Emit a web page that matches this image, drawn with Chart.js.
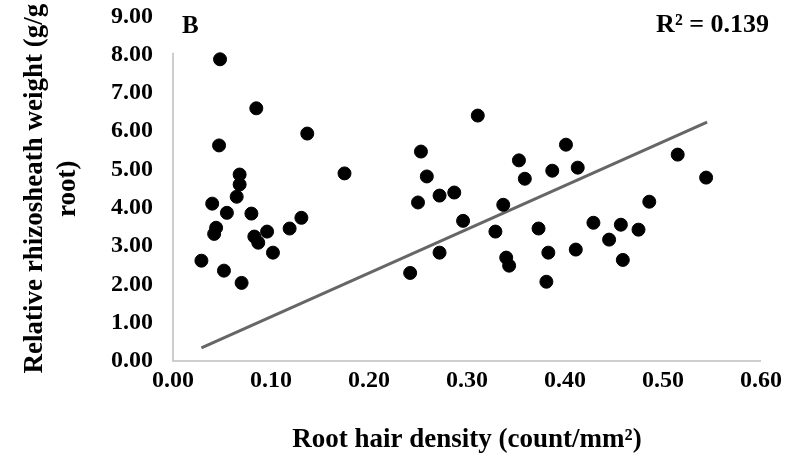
<!DOCTYPE html>
<html>
<head>
<meta charset="utf-8">
<script src="https://cdn.jsdelivr.net/npm/chart.js@4.4.1/dist/chart.umd.min.js"></script>
<style>
    html, body { margin: 0; padding: 0; background: #fff; }
    #wrap { width: 789px; height: 473px; }
</style>
</head>
<body>
<div id="wrap"><canvas id="scatter"></canvas></div>
<script>
    // Root hair density vs relative rhizosheath weight
    const density = [
        0.029, 0.040, 0.042, 0.044, 0.047, 0.048, 0.052, 0.055, 0.065, 0.068,
        0.068, 0.070, 0.080, 0.083, 0.085, 0.087, 0.096, 0.102, 0.119, 0.131,
        0.137, 0.175,
        0.242, 0.250, 0.253, 0.259, 0.272, 0.272, 0.287, 0.296, 0.311, 0.329,
        0.337, 0.340, 0.343, 0.353, 0.359, 0.373, 0.381, 0.383, 0.387, 0.401,
        0.411, 0.413, 0.429, 0.445, 0.457, 0.459, 0.475, 0.486, 0.515, 0.544
    ];
    const rhizosheath = [
        2.62, 4.11, 3.32, 3.48, 5.63, 7.88, 2.36, 3.87, 4.29, 4.87,
        4.61, 2.04, 3.85, 3.25, 6.60, 3.09, 3.38, 2.83, 3.46, 3.74,
        5.94, 4.90,
        2.30, 4.14, 5.47, 4.82, 4.32, 2.83, 4.40, 3.66, 6.41, 3.38,
        4.08, 2.70, 2.49, 5.24, 4.76, 3.46, 2.07, 2.83, 4.97, 5.65,
        2.91, 5.05, 3.61, 3.17, 3.56, 2.64, 3.43, 4.16, 5.39, 4.79
    ];

    // linear trendline end points
    const trendX = [0.029, 0.545];
    const trendY = [0.34, 6.24];

    const panelLabel = 'B';
    const r2Label = 'R² = 0.139';
    const xTitle = 'Root hair density (count/mm²)';
    const yTitle = ['Relative rhizosheath weight (g/g', 'root)'];

    const serif = '"Liberation Serif", "Times New Roman", serif';
    const yAxisLineTop = 8.05;

    // left axis line stops short of the top of the plot
    const axisLines = {
        id: 'axisLines',
        afterDatasetsDraw(chart) {
            const { ctx, scales: { x, y } } = chart;
            ctx.save();
            ctx.strokeStyle = '#bfbfbf';
            ctx.lineWidth = 1.5;
            ctx.beginPath();
            ctx.moveTo(x.left, y.getPixelForValue(yAxisLineTop));
            ctx.lineTo(x.left, y.bottom);
            ctx.lineTo(x.right, y.bottom);
            ctx.stroke();
            ctx.restore();
        }
    };

    const cornerText = {
        id: 'cornerText',
        afterDraw(chart) {
            const { ctx } = chart;
            ctx.save();
            ctx.fillStyle = '#000';
            ctx.font = 'bold 25px ' + serif;
            ctx.textBaseline = 'middle';
            ctx.textAlign = 'left';
            ctx.fillText(panelLabel, 182, 27);
            ctx.font = 'bold 26px ' + serif;
            ctx.textAlign = 'right';
            ctx.fillText(r2Label, 769, 25);
            ctx.restore();
        }
    };

    const points = density.map((d, i) => ({ x: d, y: rhizosheath[i] }));
    const trend = trendX.map((d, i) => ({ x: d, y: trendY[i] }));

    new Chart(document.getElementById('scatter'), {
        type: 'scatter',
        data: {
            datasets: [
                {
                    data: points,
                    backgroundColor: '#000',
                    borderColor: '#000',
                    pointRadius: 6.5,
                    pointHoverRadius: 6.5,
                    order: 1
                },
                {
                    type: 'line',
                    data: trend,
                    borderColor: '#666666',
                    borderWidth: 3,
                    pointRadius: 0,
                    fill: false,
                    order: 2
                }
            ]
        },
        options: {
            responsive: true,
            maintainAspectRatio: false,
            animation: false,
            events: [],
            layout: { padding: { top: 0, right: 28, bottom: 0, left: 0 } },
            plugins: {
                legend: { display: false },
                tooltip: { enabled: false }
            },
            scales: {
                x: {
                    type: 'linear',
                    min: 0,
                    max: 0.6,
                    grid: { display: false, drawTicks: false },
                    border: { display: false },
                    ticks: {
                        stepSize: 0.1,
                        padding: 5,
                        color: '#000',
                        font: { family: serif, size: 24, weight: 'bold' },
                        callback: v => v.toFixed(2)
                    },
                    title: {
                        display: true,
                        text: xTitle,
                        color: '#000',
                        font: { family: serif, size: 27, weight: 'bold' },
                        padding: { top: 0, bottom: 17 }
                    },
                    afterFit(scale) { scale.height = 112; }
                },
                y: {
                    min: 0,
                    max: 9,
                    // invisible tick marks keep the labels clear of the axis
                    grid: {
                        display: true,
                        drawOnChartArea: false,
                        drawTicks: true,
                        tickLength: 18,
                        tickColor: 'rgba(0,0,0,0)'
                    },
                    border: { display: false },
                    ticks: {
                        stepSize: 1,
                        padding: 2,
                        color: '#000',
                        font: { family: serif, size: 24, weight: 'bold' },
                        callback: v => v.toFixed(2)
                    },
                    title: {
                        display: true,
                        text: yTitle,
                        color: '#000',
                        font: { family: serif, size: 27, weight: 'bold', lineHeight: 1.2 },
                        padding: { top: 19, bottom: 0 }
                    },
                    afterFit(scale) { scale.width = 173; }
                }
            }
        },
        plugins: [axisLines, cornerText]
    });
</script>
</body>
</html>
